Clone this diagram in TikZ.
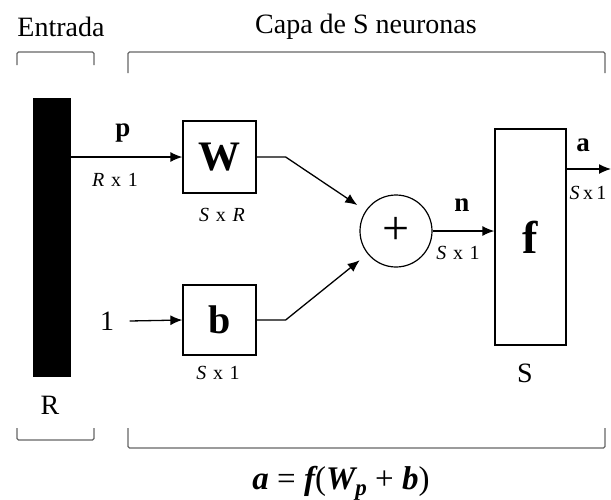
\documentclass[tikz,border=0pt]{standalone}
\usepackage{fontspec}
\setmainfont{Liberation Serif}
\usepackage{tikz}
\usetikzlibrary{arrows.meta}

\newcommand{\fsz}[1]{\fontsize{#1}{#1}\selectfont}
\newcommand{\bi}[1]{{\bfseries\itshape #1}}

\begin{document}
\begin{tikzpicture}[x=1pt,y=-1pt,font=\fsz{28},>={Latex[length=12pt,width=10pt]},
 box/.style={draw,line width=1.3pt,inner sep=0pt,font={\fsz{42}\bfseries}},
 sumnode/.style={draw,circle,line width=1.2pt,minimum size=72pt,inner sep=0pt,font=\fsz{48}},
 lab/.style={inner sep=0pt,font={\fsz{27}\bfseries}},
 dimlab/.style={inner sep=0pt,font=\fsz{20}},
 e/.style={->,line width=1.3pt},
 brk/.style={draw=black!60,line width=1.2pt,rounded corners=1.5pt}]
\useasboundingbox (0,0) rectangle (611,499);
% titles and brackets
\node (ent) at (61,27) {Entrada};
\node (capa) at (366,27) {Capa de S neuronas};
\draw[brk] (17,65) -- (17,52) -- (94,52) -- (94,65);
\draw[brk] (128,73) -- (128,52) -- (605,52) -- (605,73);
\draw[brk] (17,428) -- (17,440) -- (94,440) -- (94,428);
\draw[brk] (128,428) -- (128,448) -- (605,448) -- (605,428);
% blocks
\node[fill=black,minimum width=38pt,minimum height=279pt,inner sep=0pt] (bar) at (52,237.5) {};
\node[box,minimum width=73pt,minimum height=72pt] (W) at (219.5,157) {W};
\node[box,minimum width=73pt,minimum height=70pt,font={\fsz{40}\bfseries}] (b) at (219.5,320) {b};
\node[sumnode] (sum) at (396,231) {+};
\node[box,minimum width=71pt,minimum height=216pt,font={\fsz{46}\bfseries}] (f) at (530.5,237) {f};
\coordinate (aout) at (611,169);
% labels
\node[lab] (p) at (123,133) {p};
\node[dimlab] (pdim) at (115,180) {\textit{R}\,\,x\,\,1};
\node[dimlab] (Wdim) at (222,215) {\textit{S}\,\,x\,\,\textit{R}};
\node[dimlab] (bdim) at (218,373) {\textit{S}\,\,x\,\,1};
\node[lab] (nl) at (462,205) {n};
\node[dimlab] (ndim) at (458,253) {\textit{S}\,\,x\,\,1};
\node[lab] (al) at (583,145) {a};
\node[dimlab] (adim) at (588,193) {\textit{S}\,x\,1};
\node (one) at (107,321) {1};
\node (Sl) at (525,373) {S};
\node (Rl) at (50,405) {R};
\node[font=\fsz{33}] (eq) at (341,483) {\bi{a} = \bi{f}(\bi{W}\raisebox{-6pt}{\fsz{23}\bi{p}}~+ \bi{b})};
% connections
\draw[e] (bar.east |- W.west) -- (W.west);
\draw[e] ([xshift=12pt]one.east) -- (b.west);
\draw[e,shorten >=10pt] (W.east) -- ++(29,0) -- (sum);
\draw[e,shorten >=10pt] (b.east) -- ++(29,0) -- (sum);
\draw[e] (sum.east) -- (sum.east -| f.west);
\draw[e] (f.east |- aout) -- (aout);
\end{tikzpicture}
\end{document}
